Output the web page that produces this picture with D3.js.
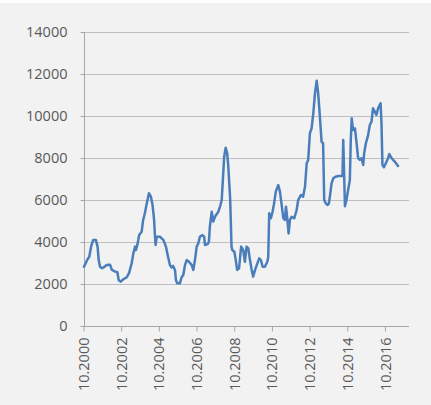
<!DOCTYPE html>
<html>
<head>
<meta charset="utf-8">
<script src="https://cdn.jsdelivr.net/npm/d3@7"></script>
<style>
  html, body { margin: 0; padding: 0; background: #ffffff; }
  svg { display: block; }
  .tick text { font-family: "Open Sans", sans-serif; font-size: 14.5px; fill: #595959; }
</style>
</head>
<body>
<svg id="chart" width="431" height="405"></svg>
<script>
// Observation dates as decimal years (Oct 2000 = 2000.75)
const years = [
  2000.75, 2000.93, 2001.03, 2001.13, 2001.24, 2001.38, 2001.47, 2001.53, 2001.60, 2001.71,
  2001.81, 2001.95, 2002.13, 2002.23, 2002.41, 2002.52, 2002.59, 2002.70, 2002.83, 2003.02,
  2003.15, 2003.28, 2003.37, 2003.46, 2003.51, 2003.58, 2003.68, 2003.81, 2003.89, 2003.98,
  2004.08, 2004.20, 2004.30, 2004.39, 2004.47, 2004.52, 2004.55, 2004.61, 2004.78, 2004.96,
  2005.10, 2005.19, 2005.31, 2005.40, 2005.48, 2005.58, 2005.63, 2005.70, 2005.84, 2005.93,
  2006.02, 2006.11, 2006.20, 2006.32, 2006.47, 2006.55, 2006.64, 2006.73, 2006.82, 2006.90,
  2007.03, 2007.13, 2007.17, 2007.31, 2007.38, 2007.43, 2007.53, 2007.61, 2007.70, 2007.88,
  2007.97, 2008.06, 2008.11, 2008.19, 2008.27, 2008.35, 2008.41, 2008.46, 2008.51, 2008.58,
  2008.62, 2008.73, 2008.79, 2008.88, 2008.98, 2009.09, 2009.20, 2009.29, 2009.38, 2009.47,
  2009.56, 2009.65, 2009.73, 2009.83, 2009.92, 2010.05, 2010.14, 2010.23, 2010.35, 2010.48,
  2010.53, 2010.58, 2010.67, 2010.76, 2010.84, 2010.93, 2011.06, 2011.15, 2011.23, 2011.33,
  2011.41, 2011.47, 2011.53, 2011.61, 2011.68, 2011.77, 2011.91, 2012.03, 2012.12, 2012.26,
  2012.38, 2012.48, 2012.57, 2012.65, 2012.74, 2012.83, 2012.92, 2013.01, 2013.10, 2013.18,
  2013.27, 2013.36, 2013.44, 2013.50, 2013.58, 2013.68, 2013.75, 2013.80, 2013.89, 2013.98,
  2014.10, 2014.24, 2014.42, 2014.47, 2014.51, 2014.56, 2014.60, 2014.68, 2014.77, 2014.86,
  2014.91, 2014.96, 2015.03, 2015.13, 2015.22, 2015.30, 2015.39, 2015.48, 2015.57, 2015.62,
  2015.71, 2015.83, 2015.92, 2016.01, 2016.09, 2016.18, 2016.27, 2016.36, 2016.49, 2016.54,
  2016.59, 2016.67, 2016.77, 2016.89, 2016.95, 2017.08, 2017.24, 2017.42
];

const values = [
  2820, 3170, 3300, 3800, 4100, 4100, 3780, 3140, 2820, 2750,
  2800, 2900, 2920, 2670, 2590, 2560, 2190, 2110, 2220, 2320,
  2540, 2990, 3460, 3780, 3620, 3860, 4330, 4490, 5050, 5370,
  5840, 6320, 6160, 5760, 5050, 4250, 3860, 4250, 4250, 4100,
  3780, 3380, 2900, 2790, 2860, 2670, 2190, 2030, 2030, 2320,
  2430, 2900, 3140, 3060, 2900, 2670, 3140, 3780, 3940, 4250,
  4330, 4250, 3860, 3900, 4010, 4730, 5440, 4970, 5200, 5440,
  5680, 6000, 6790, 8060, 8490, 8220, 7590, 6790, 6000, 3780,
  3620, 3540, 3220, 2670, 2750, 3780, 3620, 3060, 3780, 3700,
  3140, 2670, 2350, 2670, 2900, 3220, 3140, 2820, 2820, 3060,
  3300, 5370, 5130, 5440, 5840, 6400, 6710, 6400, 5840, 5130,
  5050, 5680, 5200, 4410, 5050, 5200, 5130, 5500, 6000, 6240,
  6160, 6630, 7750, 7910, 9180, 9410, 10130, 11080, 11680, 11080,
  9970, 8780, 8700, 6000, 5840, 5760, 5840, 6160, 6790, 7030,
  7110, 7140, 7140, 7140, 8860, 7110, 5700, 6000, 6480, 6950,
  8860, 9890, 9330, 9410, 8700, 7990, 7910, 7990, 7670, 8220,
  8700, 9090, 9570, 9730, 10370, 10210, 10050, 10370, 10610, 9650,
  7670, 7560, 7750, 7990, 8190, 7990, 7830, 7620
];

const yTicks = [0, 2000, 4000, 6000, 8000, 10000, 12000, 14000];
const xTickLabels = ["10.2000", "10.2002", "10.2004", "10.2006", "10.2008",
                     "10.2010", "10.2012", "10.2014", "10.2016"];

// "MM.YYYY" -> decimal year
const labelToYear = s => {
  const [m, y] = s.split(".").map(Number);
  return y + (m - 1) / 12;
};
const xTickValues = xTickLabels.map(labelToYear);

const svg = d3.select("#chart");

// panel background
svg.append("rect")
  .attr("x", 0).attr("y", 3)
  .attr("width", 431).attr("height", 402)
  .attr("fill", "#f2f2f2");

const plotLeft = 84, plotRight = 409, plotTop = 32, plotBottom = 326;

const x = d3.scaleLinear().domain([2000.75, 2018.0]).range([plotLeft, plotRight]);
const y = d3.scaleLinear().domain([0, 14000]).range([plotBottom, plotTop]);

// horizontal gridlines
svg.append("g")
  .selectAll("line")
  .data(yTicks.filter(d => d > 0))
  .join("line")
  .attr("x1", plotLeft).attr("x2", plotRight)
  .attr("y1", d => Math.round(y(d)) + 0.5)
  .attr("y2", d => Math.round(y(d)) + 0.5)
  .attr("stroke", "#bfbfbf")
  .attr("stroke-width", 1);

// y axis
const yAxis = svg.append("g")
  .attr("transform", `translate(${plotLeft + 0.5},0)`)
  .call(d3.axisLeft(y).tickValues(yTicks).tickSize(4).tickPadding(13)
    .tickFormat(d3.format("d")).offset(0));
yAxis.select(".domain").attr("stroke", "#a6a6a6").attr("d", `M0,${plotTop}V${plotBottom}`);
yAxis.selectAll(".tick line").attr("stroke", "#a6a6a6")
  .attr("transform", d => `translate(0,${Math.round(y(d)) + 0.5 - y(d)})`);

// x axis
const xAxis = svg.append("g")
  .attr("transform", `translate(0,${plotBottom + 0.5})`)
  .call(d3.axisBottom(x).tickValues(xTickValues).tickSize(5).tickPadding(6)
    .tickFormat((d, i) => xTickLabels[i]).offset(0));
xAxis.select(".domain").attr("stroke", "#a6a6a6").attr("d", `M${plotLeft},0H${plotRight}`);
xAxis.selectAll(".tick line").attr("stroke", "#a6a6a6");
xAxis.selectAll(".tick text")
  .attr("transform", "rotate(-90)")
  .attr("text-anchor", "end")
  .attr("x", -11)
  .attr("y", 0)
  .attr("dy", "0.35em");

// series line
const data = years.map((t, i) => ({ t, v: values[i] }));
svg.append("path")
  .datum(data)
  .attr("fill", "none")
  .attr("stroke", "#4a7ebb")
  .attr("stroke-width", 2.5)
  .attr("stroke-linejoin", "round")
  .attr("stroke-linecap", "round")
  .attr("d", d3.line().x(d => x(d.t)).y(d => y(d.v)));
</script>
</body>
</html>
